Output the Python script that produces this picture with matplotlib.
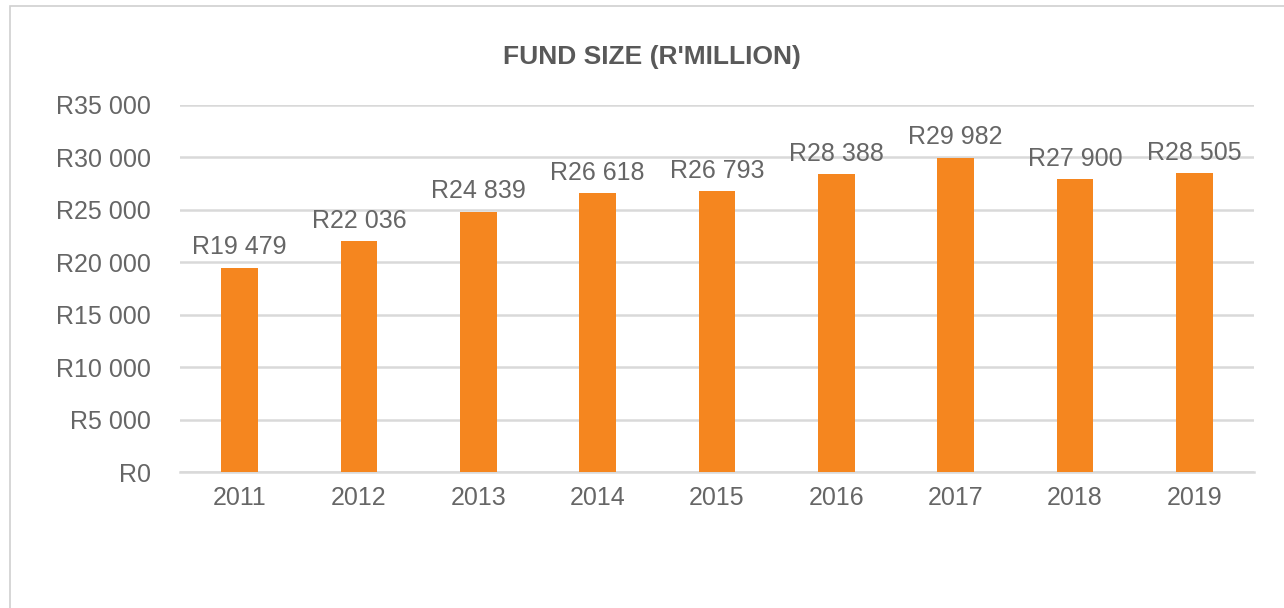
"""
Fund size bar chart (R'million), 2011-2019
"""

import matplotlib.pyplot as plt
import matplotlib.patches as mpatches

years = ['2011', '2012', '2013', '2014', '2015', '2016', '2017', '2018', '2019']
fund_size = [19479, 22036, 24839, 26618, 26793, 28388, 29982, 27900, 28505]
y_ticks = [0, 5000, 10000, 15000, 20000, 25000, 30000, 35000]


def rand_fmt(v):
    """Format as R12 345 with a space as thousands separator"""
    return 'R' + f'{v:,}'.replace(',', ' ')


plt.rcParams['font.family'] = ['Liberation Sans', 'DejaVu Sans']

GREY_TEXT = '#666666'
TITLE_GREY = '#595959'
GRID = '#d9d9d9'
ORANGE = '#F5861F'

fig = plt.figure(figsize=(12.84, 6.08), dpi=100)

# outer chart frame (cut off at right and bottom like the source)
frame = mpatches.Rectangle((10 / 1284, -0.05), 1.1, 1 - 6 / 608 + 0.05,
                           transform=fig.transFigure, fill=False,
                           edgecolor='#d0d0d0', linewidth=1.2)
fig.patches.append(frame)

ax = fig.add_axes([180 / 1284, 136 / 608, 1074 / 1284, 367 / 608])

x = range(len(years))
ax.bar(x, fund_size, width=0.31, color=ORANGE, zorder=3)

for xi, v in zip(x, fund_size):
    ax.annotate(rand_fmt(v), (xi, v), xytext=(0, 6), textcoords='offset points',
                ha='center', va='bottom', fontsize=18, color=GREY_TEXT)

ax.set_xlim(-0.5, len(years) - 0.5)
ax.set_ylim(0, 35000)
ax.set_yticks(y_ticks)
ax.set_yticklabels([rand_fmt(t) for t in y_ticks])
ax.set_xticks(list(x))
ax.set_xticklabels(years)

ax.grid(axis='y', color=GRID, linewidth=1.8, zorder=0)
ax.set_axisbelow(True)
for s in ['top', 'right', 'left']:
    ax.spines[s].set_visible(False)
ax.spines['bottom'].set_color(GRID)
ax.spines['bottom'].set_linewidth(1.8)

ax.tick_params(axis='both', length=0, labelsize=18, colors=GREY_TEXT)
ax.tick_params(axis='y', pad=21)
ax.tick_params(axis='x', pad=10)

fig.text(652 / 1284, 1 - 57 / 608, "FUND SIZE (R'MILLION)", ha='center', va='center',
         fontsize=19, fontweight='bold', color=TITLE_GREY)

fig.savefig('out.png', dpi=100)
plt.close()
